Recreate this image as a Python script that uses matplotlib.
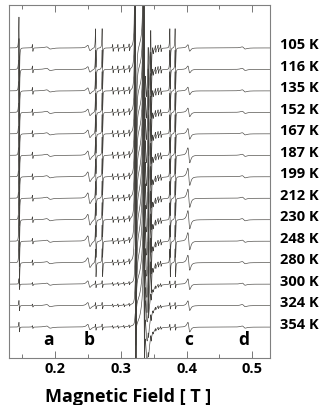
import numpy as np
import matplotlib
matplotlib.use("Agg")
import matplotlib.pyplot as plt
from matplotlib.ticker import MultipleLocator, FixedLocator

# ---------------- data ----------------
temps_K = [105, 116, 135, 152, 167, 187, 199, 212, 230, 248, 280, 300, 324, 354]
temp_labels = [f"{t} K" for t in temps_K]

# strong narrow lines: field positions [T] and relative strength
strong_pos = [0.1455, 0.262, 0.272, 0.342, 0.346, 0.375, 0.383]
strong_rel = [1.6, 1.0, 1.0, 1.2, 1.2, 1.0, 1.0]
# peak-to-peak of strong lines per temperature (in units of trace spacing)
strong_pp = [1.8, 1.8, 1.8, 1.8, 1.8, 1.7, 1.7, 1.6, 1.6, 1.5, 1.3, 0.32, 0.30, 0.28]

# weak narrow lines (hyperfine-like multiplets)
weak_pos = [0.166, 0.288, 0.296, 0.305, 0.313, 0.349, 0.353, 0.357, 0.361]
weak_pp = [0.32, 0.32, 0.32, 0.30, 0.30, 0.30, 0.28, 0.28, 0.27, 0.26, 0.25, 0.15, 0.14, 0.13]

# very intense central lines
core1_pos, core2_pos = 0.3225, 0.3355
core1_pp = [14, 14, 14, 14, 14, 14, 14, 14, 14, 14, 12, 3, 2, 1]
core2_pp = [14, 14, 14, 14, 14, 14, 14, 14, 14, 14, 12, 8, 7, 6]

# broad central line
broad_pos = 0.3375
broad_w = [0.003, 0.003, 0.003, 0.0032, 0.0034, 0.0036, 0.0038, 0.004, 0.0042, 0.0044, 0.0046, 0.005, 0.005, 0.005]
broad_pp = [4.0, 4.0, 4.0, 4.2, 4.4, 4.6, 4.8, 5.0, 5.0, 5.0, 4.5, 3.4, 3.2, 3.0]

# labelled features a, b, c, d
feat_names = ["a", "b", "c", "d"]
feat_pos = [0.190, 0.2515, 0.4035, 0.487]
feat_w = [0.005, 0.003, 0.0025, 0.004]
a_pp = [0.10] * 14
b_pp = [0.25, 0.25, 0.28, 0.30, 0.35, 0.40, 0.45, 0.50, 0.50, 0.50, 0.45, 0.30, 0.28, 0.25]
c_pp = [0.30, 0.32, 0.35, 0.40, 0.50, 0.70, 0.80, 0.85, 0.85, 0.80, 0.70, 0.50, 0.45, 0.45]
d_pp = [0.10] * 14
feat_pp = [a_pp, b_pp, c_pp, d_pp]

narrow_w = 0.0006
x_ticks_major = [0.2, 0.3, 0.4, 0.5]
x_tick_labels = ["0.2", "0.3", "0.4", "0.5"]

# ---------------- lineshape ----------------
def dlor(B, B0, w, pp):
    x = (B - B0) / w
    return pp * (-2 * x / (1 + x ** 2) ** 2) / 1.299


B = np.linspace(0.125, 0.535, 9000)
FAM = ["Open Sans", "DejaVu Sans"]

fig = plt.figure(figsize=(3.28, 4.05), dpi=100)
ax = fig.add_axes([9 / 328, 1 - 358 / 405, 261 / 328, 353 / 405])

line_color = "#42403c"
for i, t in enumerate(temps_K):
    y = np.zeros_like(B)
    for p, r in zip(strong_pos, strong_rel):
        y += dlor(B, p, narrow_w, r * strong_pp[i])
    for p in weak_pos:
        y += dlor(B, p, narrow_w, weak_pp[i])
    y += dlor(B, core1_pos, narrow_w * 1.5, core1_pp[i])
    y += dlor(B, core2_pos, narrow_w * 1.5, core2_pp[i])
    y += dlor(B, broad_pos, broad_w[i], broad_pp[i])
    for p, w, pps in zip(feat_pos, feat_w, feat_pp):
        y += dlor(B, p, w, pps[i])
    off = -i
    ax.plot(B, y + off, color=line_color, lw=0.45)
    ax.text(1.038, off + 0.12, temp_labels[i], transform=ax.get_yaxis_transform(),
            ha="left", va="center", fontsize=10.5, fontweight="bold",
            family=FAM, clip_on=False)

for name, p in zip(feat_names, feat_pos):
    ax.text(p, -13.62, name, ha="center", va="center", fontsize=12.5,
            fontweight="bold", family=FAM)

ax.set_xlim(0.130, 0.527)
ax.set_ylim(-14.44, 2.0)
ax.xaxis.set_major_locator(FixedLocator(x_ticks_major))
ax.xaxis.set_minor_locator(MultipleLocator(0.05))
ax.set_yticks([])
ax.tick_params(axis="x", which="both", direction="in", top=True, bottom=True,
               color="#777777", width=0.7, pad=3)
ax.tick_params(axis="x", which="major", length=5)
ax.tick_params(axis="x", which="minor", length=3)
ax.set_xticklabels(x_tick_labels, fontweight="bold", family=FAM, fontsize=10.5)
for s in ax.spines.values():
    s.set_color("#808080")
    s.set_linewidth(0.8)

fig.text(128 / 328, 1 - 397 / 405, "Magnetic Field [ T ]", ha="center", va="center",
         fontsize=13, fontweight="bold", family=FAM)

fig.savefig("out.png", dpi=100)
